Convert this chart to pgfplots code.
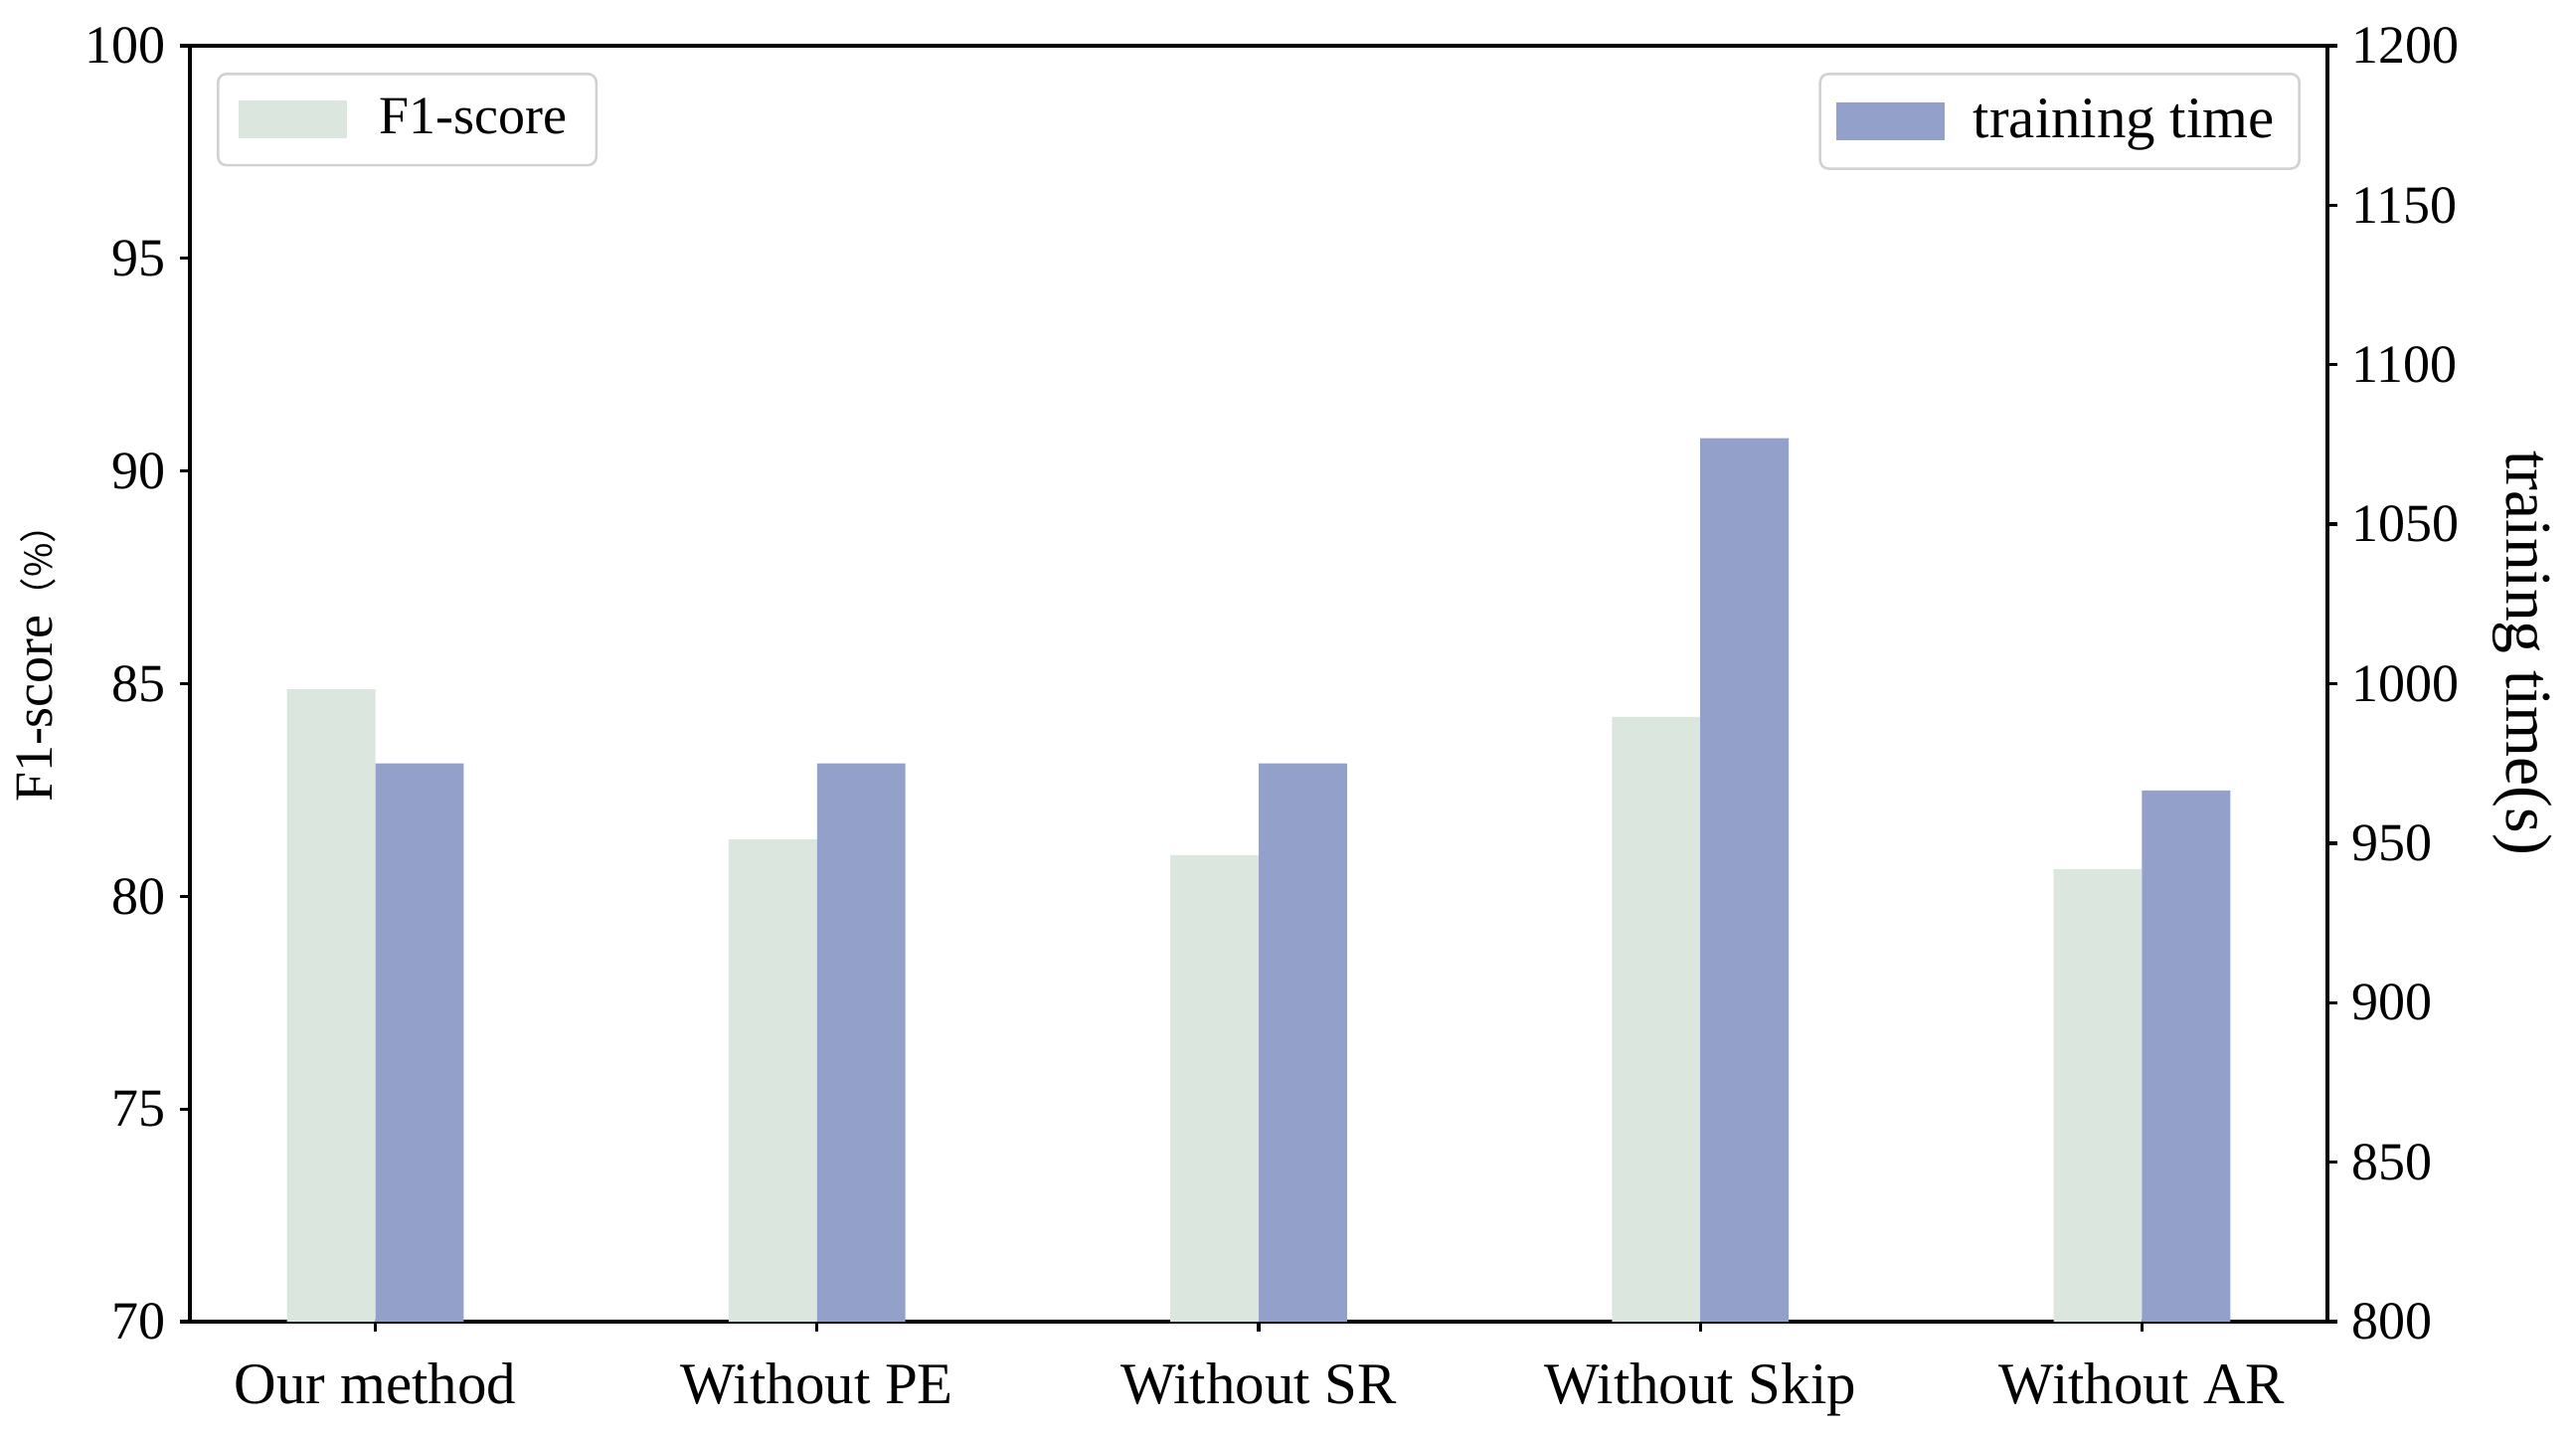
\documentclass[border=0pt]{standalone}
\usepackage{pgfplots}
\pgfplotsset{compat=1.18}
\usepackage{fontspec}
\setmainfont{Liberation Serif}
\newfontfamily\cjk{Noto Sans CJK SC}
\definecolor{f1green}{RGB}{219,230,222}
\definecolor{ttblue}{RGB}{147,160,201}

\pgfplotsset{
  mybase/.style={
    width=516bp, height=307.92bp, scale only axis,
    xmin=-0.42, xmax=4.42,
    tick align=outside,
    major tick length=2.4bp,
    axis line style={line width=0.8bp},
    every tick/.style={black, line width=0.8bp},
    /pgf/number format/assume math mode=true,
    /pgf/number format/1000 sep={},
    tick label style={font=\fontsize{13}{15}\selectfont},
    label style={font=\fontsize{13}{15}\selectfont},
    ybar, bar width=0.2,
    legend image code/.code={\fill[##1,draw=none,sharp corners] (0bp,-4.5bp) rectangle (26bp,4.5bp);},
    legend style={draw=black!18, rounded corners=2bp, line width=0.6bp,
      font=\fontsize{13}{15}\selectfont, inner xsep=5bp, inner ysep=4bp,
      /tikz/every odd column/.append style={column sep=6bp}},
  }
}

\begin{document}
\begin{tikzpicture}[font=\fontsize{13}{15}\selectfont]
\path[use as bounding box] (-45.84bp,-27.36bp) rectangle (576bp,318.96bp);
\begin{axis}[mybase,
  ymin=70, ymax=100, ytick={70,75,80,85,90,95,100},
  xtick={0,1,2,3,4},
  xticklabels={Our method, Without PE, Without SR, Without Skip, Without AR},
  xticklabel style={yshift=-4bp, font=\fontsize{14.2}{16}\selectfont},
  xtick pos=bottom, ytick pos=left,
  ylabel={F1-score{\cjk\fontsize{9}{11}\selectfont（\%）}},
  y label style={at={(axis description cs:-0.0717,0.523)}, anchor=center},
  legend style={at={(0,1)}, xshift=6.5bp, yshift=-6.5bp, anchor=north west},
]
\addplot[fill=f1green, draw=none, bar shift=-0.1] coordinates {(0,84.87) (1,81.34) (2,80.97) (3,84.22) (4,80.64)};
\addlegendentry{F1-score}
\end{axis}
\begin{axis}[mybase,
  ymin=800, ymax=1200, ytick={800,850,900,950,1000,1050,1100,1150,1200},
  axis y line*=right, axis x line=none,
  ylabel={training time(s)},
  y label style={at={(axis description cs:1.0911,0.524)}, anchor=center, rotate=180, font=\fontsize{15.8}{18}\selectfont},
  legend style={at={(1,1)}, xshift=-6.5bp, yshift=-6.5bp, anchor=north east, font=\fontsize{14.2}{16}\selectfont, inner xsep=4bp,
    /tikz/every odd column/.append style={column sep=5bp}},
]
\addplot[fill=ttblue, draw=none, bar shift=0.1] coordinates {(0,975) (1,975) (2,975) (3,1077) (4,966.5)};
\addlegendentry{training time}
\end{axis}
\end{tikzpicture}
\end{document}
